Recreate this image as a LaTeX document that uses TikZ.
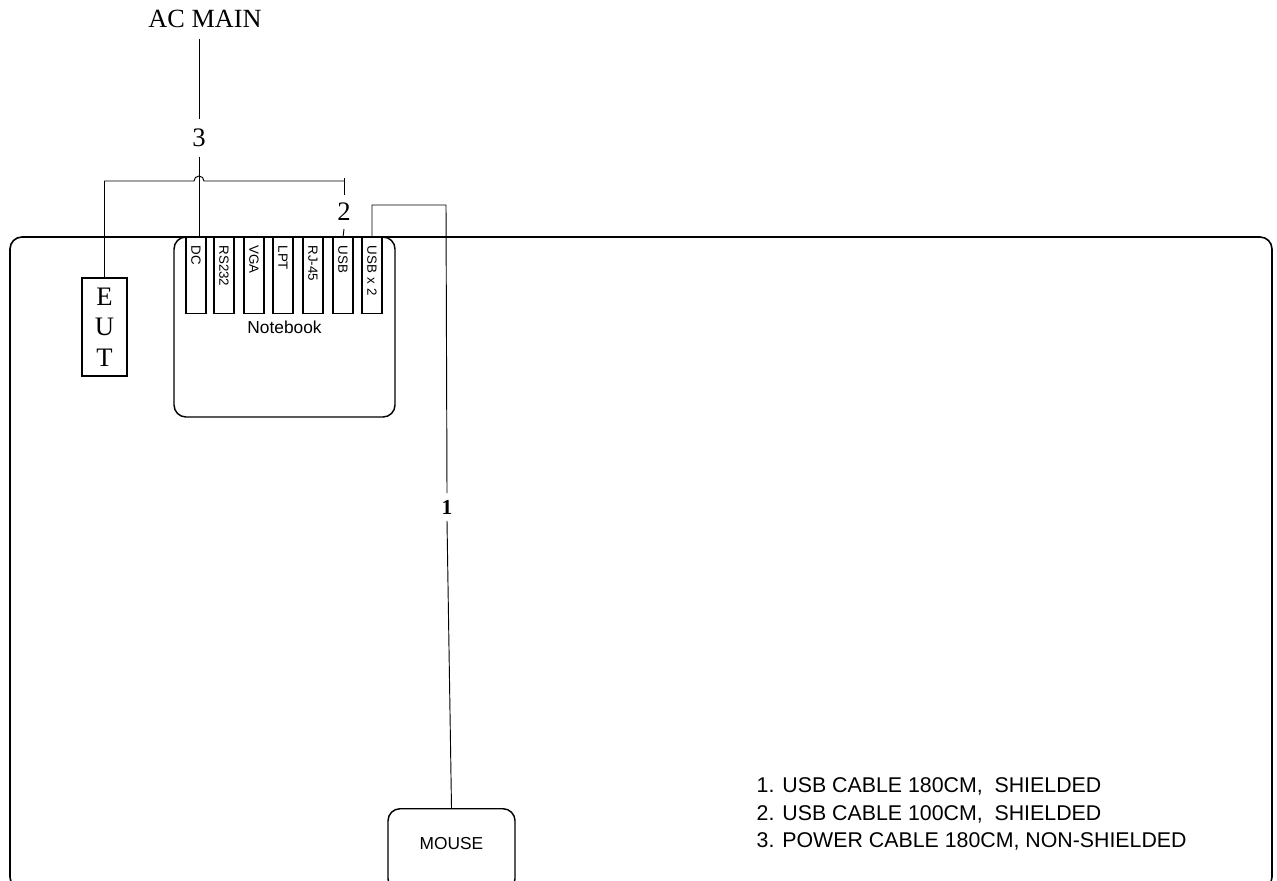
\documentclass[tikz,border=0pt]{standalone}
\usepackage{fontspec}
\setmainfont{Liberation Serif}
\setsansfont{Liberation Sans}
\usetikzlibrary{positioning}
\tikzstyle{wire}=[draw=black,line width=.7pt]
\tikzstyle{bx}=[draw=black,line width=1.1pt,rounded corners=9pt]
\tikzstyle{port}=[draw=black,line width=.9pt,rotate=-90,anchor=west,minimum height=15pt,text width=45pt,inner xsep=6pt,inner ysep=0pt,align=left,font=\sffamily\fontsize{10}{12}\selectfont]
\tikzstyle{lbl}=[inner sep=6pt,font=\fontsize{20}{24}\selectfont]

\begin{document}
\begin{tikzpicture}[x=.75pt,y=-.75pt]
\useasboundingbox (0,0) rectangle (1277,881);
% table
\draw[line width=1.2pt,rounded corners=9pt] (10,237) rectangle (1272,889);
% notebook and its ports
\node[bx,minimum width=165.75pt,minimum height=135pt,font=\sffamily\fontsize{13}{15}\selectfont] (nb) at (284.5,327) {Notebook};
\node[port] (dc) at (196,237) {DC};
\node[port] (rs) at (224,237) {RS232};
\node[port] (vga) at (254,237) {VGA};
\node[port] (lpt) at (283,237) {LPT};
\node[port] (rj) at (313,237) {RJ-45};
\node[port] (usb) at (343,237) {USB};
\node[port] (usbb) at (372,237) {USB x 2};
% eut
\node[draw=black,line width=.9pt,minimum width=33.75pt,minimum height=73.5pt,align=center,font=\fontsize{20}{23}\selectfont] (eut) at (104.5,327) {E\\U\\T};
% mouse
\node[bx,anchor=north,minimum width=95.25pt,inner ysep=21pt,text height=9.5pt,text depth=10pt,font=\sffamily\fontsize{13}{15}\selectfont] (mouse) at (451.5,808) {MOUSE};
% labels
\node[inner ysep=8pt,font=\fontsize{19.7}{22}\selectfont] (ac) at (205,19) {AC MAIN};
\node[lbl,inner ysep=7pt] (three) at (199,138) {3};
\node[lbl] (two) at (344,212) {2};
\node[lbl,inner sep=5pt,font=\bfseries\fontsize{16}{18}\selectfont] (one) at (447,507) {1};
\coordinate (jn) at (344,178);
% cables
\draw[wire] (three.north |- ac.south) -- (three.north);
\draw[wire] (three.south) -- (three.south |- dc.west);
\draw[wire] (eut.north) |- (194,181) arc (180:360:5) -- (344,181);
\draw[wire] (jn) -- (two.north);
\draw[wire] (two.south) -- (usb.west);
\draw[wire] (usbb.west) |- (446,205) -- (one.north);
\draw[wire] (one.south) -- (mouse.north);
% notes
\node[anchor=west,align=left,font=\sffamily\fontsize{16}{20.6}\selectfont] (notes) at (752,814) {1. USB CABLE 180CM,~ SHIELDED\\2. USB CABLE 100CM,~ SHIELDED\\3. POWER CABLE 180CM, NON-SHIELDED};
\end{tikzpicture}
\end{document}
